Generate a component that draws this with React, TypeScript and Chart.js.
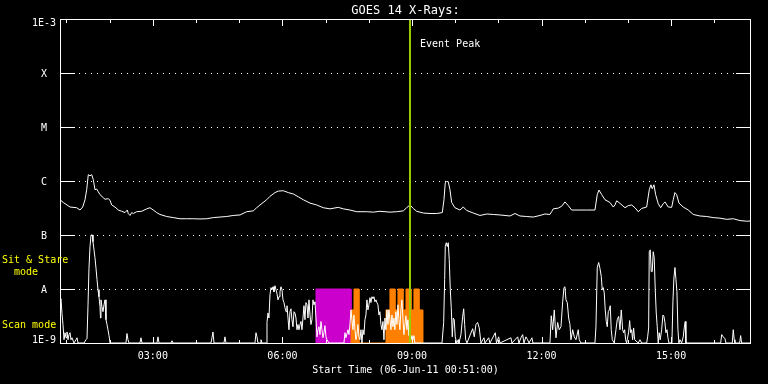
import { useEffect, useRef } from "react";
import { Chart, registerables } from "chart.js";

Chart.register(...registerables);

const MONO = '"DejaVu Sans Mono", "Liberation Mono", monospace';

const chartTitle = "GOES 14 X-Rays:";
const xAxisTitle = "Start Time (06-Jun-11 00:51:00)";
const startHour = 0.85; // 00:51
const endHour = 16.85; // 16:51
const xTickHours = [3, 6, 9, 12, 15];
const xTickLabels = ["03:00", "06:00", "09:00", "12:00", "15:00"];
const yTickValues = [1e-9, 1e-8, 1e-7, 1e-6, 1e-5, 1e-4, 1e-3];
const yTickLabels = ["1E-9", "A", "B", "C", "M", "X", "1E-3"];
const eventPeakHour = 8.954;
const eventPeakLabel = "Event Peak";
const modeLabels = ["Sit & Stare", "  mode", "Scan mode"];

// [hour of day, flux W/m^2]  long channel (1-8 A)
const longChannel: [number, number][] = [
  [0.85, 4.5e-7], [0.926, 4.0e-7], [1.082, 3.3e-7], [1.237, 3.2e-7], [1.313, 2.9e-7],
  [1.376, 3.3e-7], [1.429, 4.5e-7], [1.468, 6.9e-7], [1.505, 1.31e-6], [1.545, 1.25e-6],
  [1.584, 1.31e-6], [1.621, 1.06e-6], [1.66, 6.9e-7], [1.70, 7.1e-7], [1.737, 6.3e-7],
  [1.776, 5.6e-7], [1.853, 4.9e-7], [1.892, 4.6e-7], [1.968, 4.7e-7], [2.008, 4.4e-7],
  [2.047, 3.6e-7], [2.123, 3.3e-7], [2.2, 2.9e-7], [2.279, 2.75e-7], [2.355, 2.6e-7],
  [2.408, 2.9e-7], [2.431, 2.5e-7], [2.471, 2.3e-7], [2.51, 2.6e-7], [2.547, 2.5e-7],
  [2.626, 2.7e-7], [2.742, 2.75e-7], [2.857, 3.05e-7], [2.934, 3.2e-7], [3.01, 2.9e-7],
  [3.089, 2.6e-7], [3.165, 2.4e-7], [3.32, 2.2e-7], [3.473, 2.1e-7], [3.628, 2.0e-7],
  [3.783, 2.0e-7], [3.936, 2.0e-7], [4.091, 1.98e-7], [4.247, 2.0e-7], [4.399, 2.1e-7],
  [4.555, 2.15e-7], [4.71, 2.2e-7], [4.862, 2.3e-7], [5.018, 2.35e-7], [5.173, 2.7e-7],
  [5.326, 2.8e-7], [5.404, 3.2e-7], [5.481, 3.6e-7], [5.636, 4.5e-7], [5.712, 5.2e-7],
  [5.828, 6.1e-7], [5.904, 6.5e-7], [6.02, 6.6e-7], [6.136, 6.1e-7], [6.252, 5.75e-7],
  [6.367, 5.1e-7], [6.483, 4.5e-7], [6.638, 3.9e-7], [6.793, 3.6e-7], [6.946, 3.2e-7],
  [7.101, 3.05e-7], [7.294, 3.25e-7], [7.41, 3.05e-7], [7.564, 2.9e-7], [7.72, 2.7e-7],
  [7.951, 2.7e-7], [8.104, 2.65e-7], [8.259, 2.75e-7], [8.49, 2.65e-7], [8.646, 2.7e-7],
  [8.799, 2.8e-7], [8.877, 3.2e-7], [8.954, 3.6e-7], [9.03, 3.1e-7], [9.109, 2.75e-7],
  [9.262, 2.55e-7], [9.417, 2.5e-7], [9.572, 2.5e-7], [9.702, 2.6e-7], [9.741, 4.5e-7],
  [9.771, 9.3e-7], [9.803, 9.8e-7], [9.84, 9.7e-7], [9.879, 6.9e-7], [9.919, 4.0e-7],
  [9.995, 3.2e-7], [10.111, 2.9e-7], [10.188, 3.3e-7], [10.266, 2.85e-7], [10.42, 2.55e-7],
  [10.574, 2.3e-7], [10.73, 2.45e-7], [10.882, 2.4e-7], [11.037, 2.35e-7], [11.269, 2.25e-7],
  [11.385, 2.5e-7], [11.5, 2.25e-7], [11.656, 2.2e-7], [11.808, 2.15e-7], [11.964, 2.3e-7],
  [12.079, 2.45e-7], [12.195, 2.4e-7], [12.234, 2.7e-7], [12.272, 3.05e-7], [12.388, 3.15e-7],
  [12.466, 3.4e-7], [12.542, 4.1e-7], [12.619, 3.5e-7], [12.697, 2.9e-7], [12.774, 2.9e-7],
  [13.045, 2.9e-7], [13.237, 2.9e-7], [13.29, 5.6e-7], [13.33, 6.8e-7], [13.392, 5.6e-7],
  [13.469, 4.5e-7], [13.584, 4.0e-7], [13.661, 3.3e-7], [13.7, 3.6e-7], [13.739, 4.3e-7],
  [13.816, 3.85e-7], [13.932, 3.2e-7], [14.008, 3.5e-7], [14.087, 3.6e-7], [14.163, 3.2e-7],
  [14.24, 2.7e-7], [14.318, 3.1e-7], [14.434, 3.3e-7], [14.494, 6.9e-7], [14.533, 8.5e-7],
  [14.563, 7.2e-7], [14.603, 8.5e-7], [14.642, 5.6e-7], [14.702, 3.8e-7], [14.758, 3.2e-7],
  [14.818, 3.8e-7], [14.858, 4.1e-7], [14.934, 3.3e-7], [15.013, 3.25e-7], [15.05, 4.5e-7],
  [15.089, 6.1e-7], [15.128, 5.6e-7], [15.182, 3.9e-7], [15.281, 3.3e-7], [15.397, 2.9e-7],
  [15.513, 2.4e-7], [15.668, 2.25e-7], [15.823, 2.2e-7], [15.976, 2.1e-7], [16.131, 2.05e-7],
  [16.287, 1.95e-7], [16.439, 2.0e-7], [16.594, 1.85e-7], [16.749, 1.8e-7], [16.85, 1.82e-7],
];

// [hour of day, flux W/m^2]  short channel (0.5-4 A)
const shortChannel: [number, number][] = [
  [0.85, 6.3e-9], [0.873, 6.6e-9], [0.896, 3.5e-9], [0.919, 2.2e-9], [0.943, 1.15e-9],
  [0.966, 1.55e-9], [0.989, 1.25e-9], [1.012, 1.6e-9], [1.035, 1.15e-9], [1.058, 1.43e-9],
  [1.082, 1.55e-9], [1.105, 1.15e-9], [1.128, 1.25e-9], [1.174, 1e-9], [1.22, 1.15e-9],
  [1.244, 1.25e-9], [1.267, 1e-9], [1.406, 1e-9], [1.452, 1.15e-9], [1.475, 1.2e-9],
  [1.498, 4.9e-9], [1.521, 2.4e-8], [1.545, 6.1e-8], [1.568, 1e-7], [1.602, 1e-7],
  [1.614, 7.5e-8], [1.637, 5.3e-8], [1.66, 3.8e-8], [1.684, 2.4e-8], [1.707, 1.5e-8],
  [1.73, 9.7e-9], [1.753, 7.2e-9], [1.776, 4.7e-9], [1.788, 2.9e-9], [1.799, 6.3e-9],
  [1.822, 4.7e-9], [1.846, 3.8e-9], [1.869, 5.1e-9], [1.892, 6.3e-9], [1.915, 2.7e-9],
  [1.938, 2.2e-9], [1.961, 1.76e-9], [1.985, 1.37e-9], [2.008, 1e-9], [2.378, 1e-9],
  [2.401, 1.5e-9], [2.424, 1.15e-9], [2.448, 1e-9], [2.702, 1e-9], [2.725, 1.25e-9],
  [2.749, 1e-9], [3.096, 1e-9], [3.119, 1.3e-9], [3.142, 1e-9], [3.42, 1e-9],
  [3.443, 1.1e-9], [3.466, 1e-9], [4.346, 1e-9], [4.369, 1.25e-9], [4.392, 1.6e-9],
  [4.416, 1e-9], [4.647, 1e-9], [4.67, 1.3e-9], [4.693, 1e-9], [5.365, 1e-9],
  [5.388, 1.55e-9], [5.411, 1.3e-9], [5.434, 1e-9], [5.481, 1e-9], [5.504, 1.15e-9],
  [5.527, 1e-9], [5.62, 1e-9], [5.643, 2.4e-9], [5.666, 3.6e-9], [5.689, 2.9e-9],
  [5.712, 7.8e-9], [5.735, 1.06e-8], [5.759, 9.7e-9], [5.782, 1.1e-8], [5.805, 8.9e-9],
  [5.828, 1.15e-8], [5.851, 9.7e-9], [5.874, 8.2e-9], [5.897, 6.3e-9], [5.921, 7.2e-9],
  [5.944, 8.9e-9], [5.967, 1.1e-8], [5.99, 9.7e-9], [6.013, 6.3e-9], [6.036, 5.6e-9],
  [6.059, 4.5e-9], [6.083, 3.8e-9], [6.106, 4.9e-9], [6.129, 2.9e-9], [6.152, 1.76e-9],
  [6.175, 3.8e-9], [6.198, 4.3e-9], [6.221, 2.7e-9], [6.245, 2.0e-9], [6.268, 3.8e-9],
  [6.291, 3.6e-9], [6.314, 2.9e-9], [6.337, 1.76e-9], [6.36, 2.2e-9], [6.383, 1.76e-9],
  [6.407, 2.2e-9], [6.43, 2.5e-9], [6.453, 1.76e-9], [6.476, 2.9e-9], [6.499, 4.9e-9],
  [6.522, 2.7e-9], [6.545, 5.6e-9], [6.569, 5.1e-9], [6.592, 2.9e-9], [6.615, 6.3e-9],
  [6.638, 3.3e-9], [6.661, 2.2e-9], [6.684, 2.7e-9], [6.707, 6.3e-9], [6.731, 5.1e-9],
  [6.754, 5.8e-9], [6.777, 2.9e-9], [6.8, 1.3e-9], [6.823, 1.76e-9], [6.846, 2.0e-9],
  [6.87, 1.43e-9], [6.893, 2.5e-9], [6.916, 1.76e-9], [6.939, 1.25e-9], [6.962, 1.55e-9],
  [6.985, 2.1e-9], [7.008, 1.3e-9], [7.032, 1.15e-9], [7.078, 1e-9], [7.425, 1e-9],
  [7.448, 1.55e-9], [7.471, 1.25e-9], [7.518, 1.76e-9], [7.541, 1.43e-9], [7.564, 2.2e-9],
  [7.587, 4.1e-9], [7.61, 2.7e-9], [7.633, 1.76e-9], [7.656, 3.3e-9], [7.68, 1.76e-9],
  [7.703, 1.15e-9], [7.726, 1.43e-9], [7.749, 2.2e-9], [7.772, 1.3e-9], [7.795, 1.15e-9],
  [7.818, 1.76e-9], [7.842, 1e-9], [7.865, 1.76e-9], [7.888, 1.43e-9], [7.911, 2.7e-9],
  [7.934, 3.3e-9], [7.957, 6.3e-9], [7.98, 4.1e-9], [8.004, 5.1e-9], [8.027, 6.9e-9],
  [8.05, 5.6e-9], [8.073, 7.2e-9], [8.096, 6.6e-9], [8.119, 7.2e-9], [8.142, 5.8e-9],
  [8.166, 6.3e-9], [8.189, 5.6e-9], [8.212, 5.1e-9], [8.235, 3.3e-9], [8.258, 3.8e-9],
  [8.281, 2.2e-9], [8.304, 1.76e-9], [8.328, 2.5e-9], [8.351, 1.15e-9], [8.374, 2.9e-9],
  [8.397, 1.76e-9], [8.42, 4.1e-9], [8.443, 2.2e-9], [8.466, 4.1e-9], [8.49, 2.7e-9],
  [8.513, 1.76e-9], [8.536, 3.3e-9], [8.559, 2.0e-9], [8.582, 2.9e-9], [8.605, 1.76e-9],
  [8.628, 3.8e-9], [8.652, 2.2e-9], [8.675, 5.1e-9], [8.698, 2.7e-9], [8.721, 1.76e-9],
  [8.744, 4.1e-9], [8.767, 6.3e-9], [8.79, 2.9e-9], [8.814, 1.43e-9], [8.837, 2.2e-9],
  [8.86, 3.2e-9], [8.883, 1.76e-9], [8.906, 2.7e-9], [8.929, 1.37e-9], [8.953, 1.76e-9],
  [8.976, 1.15e-9], [8.999, 1.37e-9], [9.022, 1.15e-9], [9.045, 1.37e-9], [9.068, 1e-9],
  [9.695, 1e-9], [9.734, 2.4e-9], [9.757, 1.5e-8], [9.771, 6.1e-8], [9.794, 7.2e-8],
  [9.817, 6.1e-8], [9.84, 7.2e-8], [9.863, 3.5e-8], [9.887, 9.7e-9], [9.91, 4.5e-9],
  [9.933, 1.3e-9], [9.956, 2.9e-9], [9.979, 2.7e-9], [10.002, 1.3e-9], [10.035, 1e-9],
  [10.072, 1.15e-9], [10.088, 1e-9], [10.134, 1.43e-9], [10.174, 3.1e-9], [10.197, 4.3e-9],
  [10.22, 2.2e-9], [10.243, 1.15e-9], [10.273, 1e-9], [10.405, 1.84e-9], [10.442, 1.3e-9],
  [10.481, 2.2e-9], [10.52, 2.4e-9], [10.558, 1.9e-9], [10.597, 1e-9], [10.667, 1.25e-9],
  [10.69, 1e-9], [10.776, 1.25e-9], [10.806, 1e-9], [10.929, 1.55e-9], [10.957, 1e-9],
  [11.007, 1.3e-9], [11.037, 1e-9], [11.292, 1.25e-9], [11.315, 1e-9], [11.447, 1.3e-9],
  [11.477, 1e-9], [11.524, 1.25e-9], [11.563, 1.43e-9], [11.593, 1e-9], [11.639, 1.3e-9],
  [11.678, 1.15e-9], [11.709, 1e-9], [11.778, 1.25e-9], [11.801, 1e-9], [12.195, 1e-9],
  [12.225, 3.2e-9], [12.258, 1.76e-9], [12.295, 4.1e-9], [12.334, 1.25e-9], [12.373, 2.4e-9],
  [12.41, 1.76e-9], [12.45, 2.0e-9], [12.489, 5.8e-9], [12.519, 1.06e-8], [12.542, 1.1e-8],
  [12.565, 6.3e-9], [12.596, 5.6e-9], [12.628, 2.9e-9], [12.658, 2.2e-9], [12.681, 1.15e-9],
  [12.721, 1.76e-9], [12.758, 1.3e-9], [12.797, 1.15e-9], [12.85, 1.76e-9], [12.873, 1.15e-9],
  [12.913, 1e-9], [13.237, 1e-9], [13.26, 2.0e-9], [13.29, 2.5e-8], [13.323, 3.1e-8],
  [13.353, 2.4e-8], [13.383, 1.7e-8], [13.406, 9.7e-9], [13.429, 1.06e-8], [13.452, 8.5e-9],
  [13.475, 4.1e-9], [13.499, 2.5e-9], [13.522, 2.0e-9], [13.545, 3.8e-9], [13.568, 4.1e-9],
  [13.591, 4.9e-9], [13.614, 1.76e-9], [13.638, 1.15e-9], [13.684, 1e-9], [13.723, 1.76e-9],
  [13.753, 2.7e-9], [13.786, 3.1e-9], [13.816, 1.76e-9], [13.846, 4.1e-9], [13.878, 1.76e-9],
  [13.901, 1.55e-9], [13.924, 1.76e-9], [13.947, 1.15e-9], [13.97, 1e-9], [14.017, 1.6e-9],
  [14.04, 2.6e-9], [14.063, 1.55e-9], [14.086, 1.76e-9], [14.109, 1.15e-9], [14.132, 1.9e-9],
  [14.156, 1.15e-9], [14.239, 1e-9], [14.279, 1.15e-9], [14.318, 1e-9], [14.434, 1e-9],
  [14.457, 1.3e-9], [14.48, 1.9e-9], [14.494, 4.9e-8], [14.517, 5.3e-8], [14.54, 2.1e-8],
  [14.563, 2.1e-8], [14.586, 4.9e-8], [14.609, 3.8e-8], [14.633, 9.7e-9], [14.656, 3.6e-9],
  [14.679, 2.0e-9], [14.702, 1e-9], [14.725, 1.55e-9], [14.748, 1.15e-9], [14.781, 1.76e-9],
  [14.811, 3.3e-9], [14.834, 3.1e-9], [14.857, 2.4e-9], [14.88, 1.55e-9], [14.904, 1.76e-9],
  [14.927, 1.25e-9], [14.95, 1e-9], [15.019, 1e-9], [15.042, 5.8e-9], [15.065, 1.6e-8],
  [15.089, 2.5e-8], [15.112, 1.5e-8], [15.135, 8.9e-9], [15.158, 1.76e-9], [15.181, 1e-9],
  [15.205, 1.15e-9], [15.244, 1e-9], [15.281, 1.3e-9], [15.304, 1.9e-9], [15.327, 2.5e-9],
  [15.343, 1e-9], [16.148, 1e-9], [16.171, 1.43e-9], [16.208, 1.3e-9], [16.247, 1.2e-9],
  [16.27, 1e-9], [16.416, 1e-9], [16.439, 1.76e-9], [16.462, 1.15e-9], [16.478, 1e-9],
  [16.587, 1e-9], [16.61, 1.37e-9], [16.633, 1e-9], [16.85, 1e-9],
];

// instrument mode bands: [start hour, end hour, level]
const sitStareBand: [number, number, number][] = [
  [6.777, 7.588, 1e-8],
];
const scanBand: [number, number, number][] = [
  [7.588, 7.657, 4.1e-9], [7.657, 7.772, 1e-8],
  [8.398, 8.49, 4.1e-9], [8.49, 8.606, 1e-8], [8.606, 8.675, 4.1e-9], [8.675, 8.791, 1e-8],
  [8.791, 8.861, 4.1e-9], [8.861, 8.977, 1e-8], [8.977, 9.046, 4.1e-9], [9.046, 9.162, 1e-8],
  [9.162, 9.248, 4.1e-9],
];
const bandFloor = 1e-9;

const toXY = (arr: [number, number][]) => arr.map(([x, y]) => ({ x, y }));
const bandOutline = (segs: [number, number, number][]) =>
  segs.flatMap(([s, e, lvl]) => [
    { x: s, y: bandFloor },
    { x: s, y: lvl },
    { x: e, y: lvl },
    { x: e, y: bandFloor },
  ]);

const decor = {
  id: "goesDecor",
  beforeDraw(chart: any) {
    const { ctx, width, height } = chart;
    ctx.save();
    ctx.fillStyle = "#000";
    ctx.fillRect(0, 0, width, height);
    ctx.restore();
  },
  beforeDatasetsDraw(chart: any) {
    const { ctx, chartArea: a, scales } = chart;
    ctx.save();
    ctx.fillStyle = "#fff";
    yTickValues.slice(1, -1).forEach((v) => {
      const py = Math.round(scales.y.getPixelForValue(v));
      for (let px = a.left + 19; px < a.right - 16; px += 6) ctx.fillRect(px, py, 1, 1);
    });
    ctx.restore();
  },
  afterDraw(chart: any) {
    const { ctx, chartArea: a, scales } = chart;
    const xs = scales.x;
    const ys = scales.y;
    ctx.save();
    ctx.fillStyle = "#fff";
    ctx.fillRect(a.left, a.top, a.right - a.left, 1);
    ctx.fillRect(a.left, a.bottom, a.right - a.left, 1);
    ctx.fillRect(a.left, a.top, 1, a.bottom - a.top + 1);
    ctx.fillRect(a.right - 1, a.top, 1, a.bottom - a.top + 1);
    yTickValues.slice(1, -1).forEach((v) => {
      const py = Math.round(ys.getPixelForValue(v));
      ctx.fillRect(a.left, py, 15, 1);
      ctx.fillRect(a.right - 15, py, 15, 1);
    });
    for (let h = Math.ceil(startHour); h <= Math.floor(endHour); h++) {
      const px = Math.round(xs.getPixelForValue(h));
      const len = xTickHours.includes(h) ? 7 : 4;
      ctx.fillRect(px, a.top, 1, len);
      ctx.fillRect(px, a.bottom - len + 1, 1, len);
    }
    ctx.font = `10px ${MONO}`;
    ctx.textBaseline = "alphabetic";
    ctx.textAlign = "center";
    yTickValues.forEach((v, i) => {
      let cy = ys.getPixelForValue(v);
      if (i === 0) cy -= 3.5;
      if (i === yTickValues.length - 1) cy += 3.5;
      ctx.fillText(yTickLabels[i], 44, cy + 3.7);
    });
    xTickHours.forEach((h, i) => {
      ctx.fillText(xTickLabels[i], xs.getPixelForValue(h), a.bottom + 16);
    });
    ctx.fillText(xAxisTitle, (a.left + a.right) / 2, a.bottom + 30);
    ctx.font = `12px ${MONO}`;
    ctx.fillText(chartTitle, (a.left + a.right) / 2, 14);
    ctx.font = `10px ${MONO}`;
    ctx.textAlign = "left";
    ctx.fillText(eventPeakLabel, xs.getPixelForValue(eventPeakHour) + 10, a.top + 27.5);
    ctx.fillStyle = "#ffff00";
    ctx.fillText(modeLabels[0], 2, 263);
    ctx.fillText(modeLabels[1], 2, 275);
    ctx.fillText(modeLabels[2], 2, 327.5);
    ctx.restore();
  },
};

export default function App() {
  const ref = useRef<HTMLCanvasElement | null>(null);
  useEffect(() => {
    document.body.style.margin = "0";
    document.body.style.background = "#000";
    const canvas = ref.current;
    if (!canvas) return;
    const chart = new Chart(canvas, {
      type: "line",
      data: {
        datasets: [
          {
            label: "Event Peak",
            data: [
              { x: eventPeakHour, y: 1e-9 },
              { x: eventPeakHour, y: 1e-3 },
            ],
            borderColor: "#99cc00",
            borderWidth: 2,
            pointRadius: 0,
            order: 0,
          },
          {
            label: "Short",
            data: toXY(shortChannel),
            borderColor: "#ffffff",
            borderWidth: 1,
            pointRadius: 0,
            tension: 0,
            order: 1,
          },
          {
            label: "Long",
            data: toXY(longChannel),
            borderColor: "#ffffff",
            borderWidth: 1,
            pointRadius: 0,
            tension: 0,
            order: 1,
          },
          {
            label: "Scan",
            data: bandOutline(scanBand),
            fill: "start",
            backgroundColor: "#ff8000",
            borderColor: "#ff8000",
            borderWidth: 1,
            pointRadius: 0,
            order: 2,
          },
          {
            label: "Sit & Stare",
            data: bandOutline(sitStareBand),
            fill: "start",
            backgroundColor: "#cc00cc",
            borderColor: "#cc00cc",
            borderWidth: 1,
            pointRadius: 0,
            order: 3,
          },
        ],
      } as any,
      options: {
        animation: false,
        responsive: false,
        devicePixelRatio: 1,
        layout: { padding: { left: 60, right: 17, top: 19, bottom: 41 } },
        plugins: {
          legend: { display: false },
          tooltip: { enabled: false },
          title: { display: false },
        },
        scales: {
          x: { type: "linear", min: startHour, max: endHour, display: false },
          y: { type: "logarithmic", min: 1e-9, max: 1e-3, display: false },
        },
      } as any,
      plugins: [decor],
    });
    return () => chart.destroy();
  }, []);
  return (
    <canvas
      ref={ref}
      width={768}
      height={384}
      style={{ position: "fixed", left: 0, top: 0, width: 768, height: 384, display: "block" }}
    />
  );
}
